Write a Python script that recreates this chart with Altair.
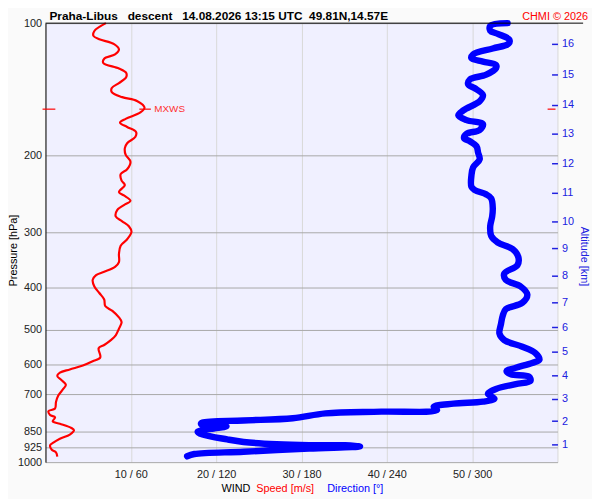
import altair as alt
import pandas as pd

# ---- data ----
speed_ms = [7.08,5.73,5.62,6.31,8.04,8.61,8.15,6.88,6.77,8.61,
            9.45,9.45,8.61,7.77,7.77,8.99,10.72,11.61,11.12,9.39,
            8.73,9.57,10.61,10.54,9.57,9.30,9.39,9.96,9.57,8.81,
            8.92,9.30,8.61,9.19,9.96,9.19,8.42,8.23,8.99,9.77,
            10.08,9.57,8.81,8.61,8.61,8.15,6.88,5.93,5.53,5.73,
            6.31,6.88,7.0,7.84,8.61,8.92,8.61,8.23,7.66,6.88,
            6.23,6.42,5.53,4.38,2.85,1.69,1.38,1.89,2.39,2.08,
            1.50,1.23,1.12,0.35,0.54,1.12,0.85,1.69,3.04,3.34,
            2.85,1.69,0.92,0.54,0.74,1.23,1.38]
speed_hpa = [100,104.2,106.9,108.8,111.6,114.8,117.8,120.5,123.2,126.8,
             129.7,132.8,136.9,140.5,143.6,147.4,150.4,155.9,159.7,165.2,
             168.6,172.4,176.9,181.5,187.7,192.6,199.3,206.9,215.2,220.8,
             228.5,233.6,242.5,246.8,253.9,259.7,266.4,275.6,282.7,290.1,
             298.7,310.7,321.4,335.5,350.1,359.2,368.5,374.8,384.5,397.9,
             411.8,426.0,440.9,452.3,468.1,479.7,496.6,514.0,527.2,540.9,
             550.2,577.3,589.3,602.5,614.9,625.4,636.4,650.6,666.5,681.3,
             705.1,729.3,754.8,765.3,781.1,790.4,807.8,817.8,836.0,845.9,
             865.2,884.4,902.8,915.4,937.3,950.2,971.2]

direction_deg = [324.9,312.7,312.7,318.0,326.1,325.6,314.5,300.7,299.5,307.6,
                 316.8,316.8,309.9,298.4,297.2,301.9,307.6,305.3,293.8,290.3,
                 296.1,307.6,305.3,296.1,294.3,298.4,303.0,304.2,305.3,300.7,
                 299.5,299.5,301.9,309.9,313.4,314.5,314.1,312.7,313.4,318.0,
                 328.4,332.5,331.8,322.6,323.7,334.1,338.8,335.3,323.7,321.5,
                 320.3,319.2,322.6,335.3,344.5,347.3,342.2,330.7,324.2,327.2,
                 339.9,341.0,330.7,316.8,311.1,315.7,307.6,286.9,273.0,275.3,
                 236.2,196.9,173.9,139.3,110.5,109.3,110.5,127.3,116.2,107.0,
                 110.5,127.8,139.3,162.4,185.4,210.8,221.2,185.4,139.3,104.7,99.6]
direction_hpa = [100,101.4,104.0,105.8,108.9,111.4,114.2,117.8,120.2,122.3,
                 124.5,126.6,131.0,134.4,137.9,140.7,145.8,150.6,158.0,162.2,
                 166.3,169.8,175.1,178.7,182.7,185.8,190.6,197.3,204.2,213.0,
                 222.3,236.0,240.1,245.5,250.6,263.7,275.6,290.1,305.3,316.0,
                 327.1,341.2,356.1,371.7,384.5,397.9,415.2,433.5,448.3,463.9,
                 484.1,509.5,527.2,545.8,564.6,584.3,594.3,609.5,620.1,630.8,
                 638.3,653.0,664.1,681.3,699.0,717.0,728.2,735.8,748.2,761.4,
                 767.4,774.2,794.3,803.5,811.9,817.8,823.3,828.8,840.3,853.4,
                 865.2,887.6,899.5,910.7,915.4,915.4,921.4,931.1,946.7,958.3,969.8]

pressure_ticks = [100, 200, 300, 400, 500, 600, 700, 850, 925, 1000]
speed_ticks = [0, 10, 20, 30, 40, 50, 60]
altitude_km = [16, 15, 14, 13, 12, 11, 10, 9, 8, 7, 6, 5, 4, 3, 2, 1]
altitude_hpa = [111.2, 130.8, 153.3, 178.4, 209.0, 243.7, 283.4, 325.8,
                376.7, 431.9, 492.5, 559.8, 634.1, 717.9, 806.5, 910.7]

mxws_speed = [11.6]
mxws_hpa = [157.0]

title_text = "Praha-Libus\u00a0\u00a0\u00a0descent\u00a0\u00a0\u00a014.08.2026 13:15 UTC\u00a0\u00a049.81N,14.57E"

# ---- tables ----
df_speed = pd.DataFrame({"i": range(len(speed_ms)), "speed": speed_ms, "p": speed_hpa})
df_dir = pd.DataFrame({"i": range(len(direction_deg)), "dir": direction_deg, "p": direction_hpa})
df_mx = pd.DataFrame({"speed": mxws_speed, "p": mxws_hpa})

FONT = "Liberation Sans"
BLUE = "#0000ff"
AXBLUE = "#2020e0"
RED = "#ff0000"

ys = alt.Scale(type="log", domain=[100, 1000], reverse=True, nice=False)
xs_speed = alt.Scale(domain=[0, 60], nice=False, zero=False)
xs_dir = alt.Scale(domain=[0, 360], nice=False, zero=False)

# right-axis label expression (pressure -> altitude km)
expr = "''"
for km, p in reversed(list(zip(altitude_km, altitude_hpa))):
    expr = f"abs(datum.value - {p}) < 0.01 ? '{km}' : ({expr})"

left_axis = alt.Axis(values=pressure_ticks, format="d", grid=True, gridColor="#a8a8a8",
                     domainColor="#000000", ticks=False, tickSize=0, labelPadding=4,
                     labelFontSize=11, labelColor="#222222", labelFont=FONT,
                     title="Pressure [hPa]", titleFontSize=11, titleFontWeight="normal",
                     titleColor="#000000", titleFont=FONT, titleX=-27, titleY=230,
                     titleBaseline="bottom", titleAngle=270)

right_axis = alt.Axis(orient="right", values=altitude_hpa, labelExpr=expr, grid=False,
                      domain=False, ticks=True, tickColor=AXBLUE, tickSize=6, tickWidth=1.5,
                      offset=-6, labelPadding=4, labelColor=AXBLUE, labelFontSize=11,
                      labelFont=FONT, title="Altitude [km]", titleColor=AXBLUE,
                      titleFontSize=11, titleFontWeight="normal", titleFont=FONT,
                      titlePadding=5, titleY=236)

x_axis = alt.Axis(values=speed_ticks,
                  labelExpr="datum.value == 0 || datum.value == 60 ? '' : datum.value + ' / ' + datum.value * 6",
                  grid=True, gridColor="#d8d8d8", domain=False, ticks=False, tickSize=0,
                  labelPadding=7, labelFontSize=11, labelColor="#222222", labelFont=FONT,
                  title="")

speed_line = alt.Chart(df_speed).mark_line(color=RED, strokeWidth=2.2,
                                          interpolate="catmull-rom").encode(
    x=alt.X("speed:Q", scale=xs_speed, axis=x_axis),
    y=alt.Y("p:Q", scale=ys, axis=left_axis),
    order="i:Q",
)

dir_line = alt.Chart(df_dir).mark_line(color=BLUE, strokeWidth=6.5, strokeCap="round",
                                      strokeJoin="round", interpolate="catmull-rom").encode(
    x=alt.X("dir:Q", scale=xs_dir, axis=None),
    y=alt.Y("p:Q", scale=ys, axis=right_axis),
    order="i:Q",
)

mx_left = alt.Chart(df_mx).mark_rule(color=RED, strokeWidth=1.2).encode(
    y=alt.Y("p:Q", scale=ys, axis=None), x=alt.value(-3), x2=alt.value(10))
mx_right = alt.Chart(df_mx).mark_rule(color=RED, strokeWidth=1.2).encode(
    y=alt.Y("p:Q", scale=ys, axis=None), x=alt.value(509), x2=alt.value(517))
mx_tick = alt.Chart(df_mx).transform_calculate(
    lo="datum.speed - 0.6", hi="datum.speed + 0.75"
).mark_rule(color=RED, strokeWidth=1.2).encode(
    x=alt.X("lo:Q", scale=xs_speed, axis=None), x2="hi:Q",
    y=alt.Y("p:Q", scale=ys, axis=None))
mx_text = alt.Chart(df_mx).mark_text(align="left", baseline="middle", dx=10, fontSize=10,
                                     color="#ff3030", font=FONT).encode(
    x=alt.X("speed:Q", scale=xs_speed, axis=None),
    y=alt.Y("p:Q", scale=ys, axis=None),
    text=alt.value("MXWS"))

top_rule = alt.Chart(df_mx).mark_rule(color="#000000", strokeWidth=1).encode(
    x=alt.value(0), x2=alt.value(545), y=alt.value(0))

title_mark = alt.Chart(df_mx).mark_text(align="left", baseline="alphabetic", fontSize=12,
                                        fontWeight="bold", color="#000000", font=FONT).encode(
    x=alt.value(4), y=alt.value(-3), text=alt.value(title_text))
chmi_mark = alt.Chart(df_mx).mark_text(align="right", baseline="alphabetic", fontSize=11,
                                       color=RED, font=FONT).encode(
    x=alt.value(550), y=alt.value(-3), text=alt.value("CHMI \u00a9 2026"))

wind_mark = alt.Chart(df_mx).mark_text(align="center", baseline="alphabetic", fontSize=11,
                                       color="#000000", font=FONT).encode(
    x=alt.value(193), y=alt.value(475), text=alt.value("WIND"))
spd_mark = alt.Chart(df_mx).mark_text(align="center", baseline="alphabetic", fontSize=11,
                                      color=RED, font=FONT).encode(
    x=alt.value(243), y=alt.value(475), text=alt.value("Speed [m/s]"))
dirlab_mark = alt.Chart(df_mx).mark_text(align="center", baseline="alphabetic", fontSize=11,
                                         color=BLUE, font=FONT).encode(
    x=alt.value(314), y=alt.value(475), text=alt.value("Direction [\u00b0]"))

chart = alt.layer(
    speed_line, dir_line, mx_left, mx_right, mx_tick, mx_text,
    top_rule, title_mark, chmi_mark, wind_mark, spd_mark, dirlab_mark,
).resolve_scale(
    x="independent", y="independent"
).properties(
    width=519, height=445,
    autosize=alt.AutoSizeParams(type="none"),
    padding={"left": 38, "top": 12, "right": 35, "bottom": 34},
).configure(
    font=FONT, background="#fafafa"
).configure_view(
    fill="#f0f0ff", stroke="transparent"
)

chart.save("out.html", embed_options={"renderer": "svg", "actions": False})
